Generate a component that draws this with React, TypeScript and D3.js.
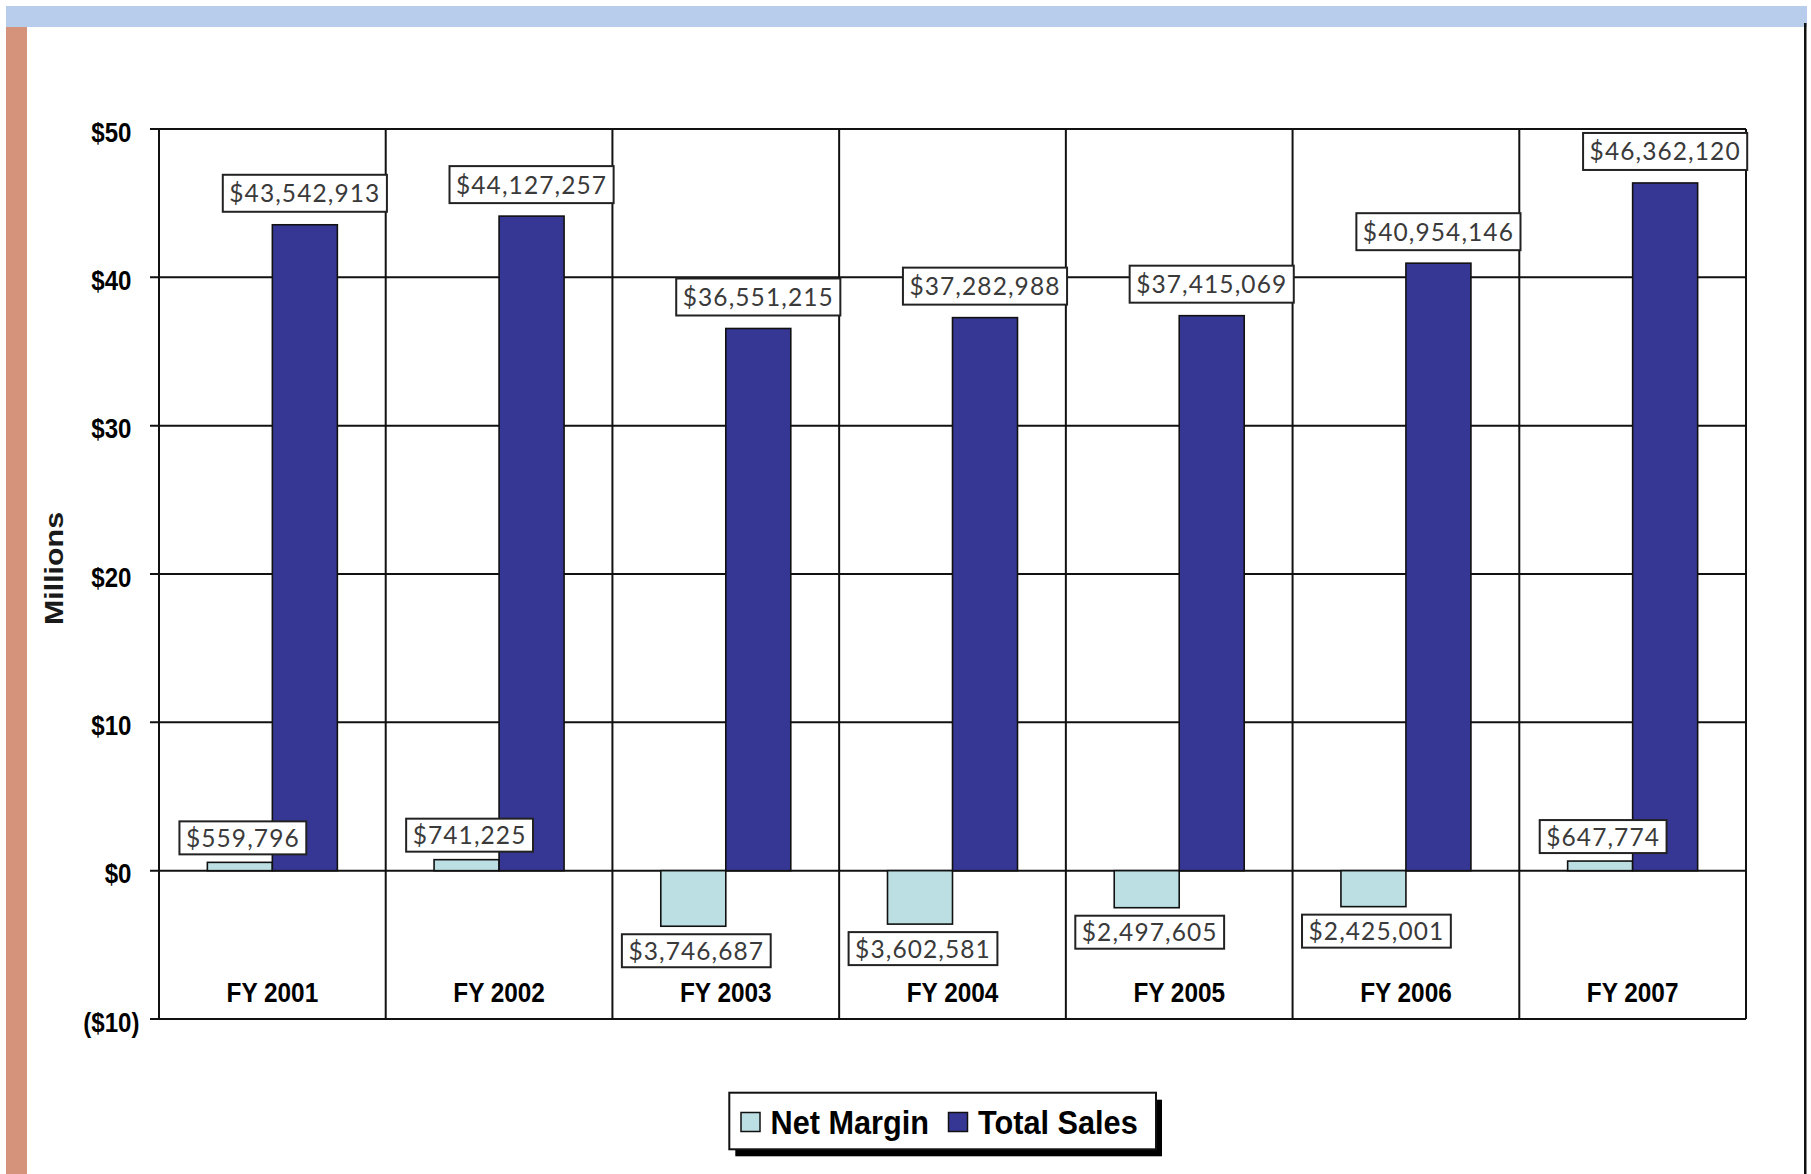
import React, { useEffect, useRef } from "react";
import * as d3 from "d3";

const categories = ["FY 2001", "FY 2002", "FY 2003", "FY 2004", "FY 2005", "FY 2006", "FY 2007"];
const netMargin = [559796, 741225, -3746687, -3602581, -2497605, -2425001, 647774];
const totalSales = [43542913, 44127257, 36551215, 37282988, 37415069, 40954146, 46362120];
const yTicks = [-10, 0, 10, 20, 30, 40, 50];
const seriesNames = ["Net Margin", "Total Sales"];
const seriesColors = ["#BBDFE2", "#363794"];
const yAxisTitle = "Millions";

const W = 1811;
const H = 1174;
const BOLD = "'Liberation Sans', Arial, Helvetica, sans-serif";
const LABEL_FONT = "Lato, 'Open Sans', 'Liberation Sans', sans-serif";

export default function App() {
  const ref = useRef<SVGSVGElement>(null);

  useEffect(() => {
    if (!ref.current) return;
    const svg = d3.select(ref.current);
    svg.selectAll("*").remove();

    svg.append("rect").attr("x", 0).attr("y", 0).attr("width", W).attr("height", H).attr("fill", "#ffffff");
    // decorative frame
    svg.append("rect").attr("x", 6).attr("y", 6).attr("width", 1801).attr("height", 21).attr("fill", "#B7CDEB");
    svg.append("rect").attr("x", 6).attr("y", 27).attr("width", 21).attr("height", H - 27).attr("fill", "#D4937A");
    svg.append("rect").attr("x", 1804).attr("y", 23).attr("width", 2.5).attr("height", H - 23).attr("fill", "#111");

    const x = d3.scaleBand<string>().domain(categories).range([159, 1746]).paddingInner(0).paddingOuter(0);
    const xs = d3.scaleBand<string>().domain(seriesNames).range([0, x.bandwidth()]).paddingInner(0).paddingOuter(0.744);
    const y = d3.scaleLinear().domain([-10, 50]).range([1019, 129]);
    const color = d3.scaleOrdinal<string, string>().domain(seriesNames).range(seriesColors);

    const g = svg.append("g");

    // horizontal gridlines with ticks
    g.selectAll("line.h")
      .data(yTicks)
      .join("line")
      .attr("class", "h")
      .attr("x1", 150)
      .attr("x2", x.range()[1])
      .attr("y1", (d) => y(d))
      .attr("y2", (d) => y(d))
      .attr("stroke", "#111")
      .attr("stroke-width", 2);

    // vertical category gridlines
    const bounds = categories.map((c) => x(c) as number).concat([x.range()[1]]);
    g.selectAll("line.v")
      .data(bounds)
      .join("line")
      .attr("class", "v")
      .attr("x1", (d) => d)
      .attr("x2", (d) => d)
      .attr("y1", y(50))
      .attr("y2", y(-10))
      .attr("stroke", "#111")
      .attr("stroke-width", 2);

    // y tick labels
    g.selectAll("text.yt")
      .data(yTicks)
      .join("text")
      .attr("class", "yt")
      .attr("transform", (d) => `translate(${d < 0 ? 139.5 : 131.5},${y(d) + 12.5}) scale(0.86,1)`)
      .attr("text-anchor", "end")
      .attr("font-family", BOLD)
      .attr("font-weight", "bold")
      .attr("font-size", 28)
      .attr("fill", "#000")
      .text((d) => (d < 0 ? `($${-d})` : `$${d}`));

    // y axis title
    g.append("text")
      .attr("transform", `translate(63,568.5) rotate(-90)`)
      .attr("text-anchor", "middle")
      .attr("font-family", BOLD)
      .attr("font-weight", "bold")
      .attr("font-size", 25)
      .attr("fill", "#1a1a1a")
      .attr("textLength", 113)
      .attr("lengthAdjust", "spacingAndGlyphs")
      .text(yAxisTitle);

    // category labels
    g.selectAll("text.xt")
      .data(categories)
      .join("text")
      .attr("class", "xt")
      .attr("transform", (d) => `translate(${(x(d) as number) + x.bandwidth() / 2},1002) scale(0.87,1)`)
      .attr("text-anchor", "middle")
      .attr("font-family", BOLD)
      .attr("font-weight", "bold")
      .attr("font-size", 28)
      .attr("fill", "#000")
      .text((d) => d);

    // bars
    const rows = categories.map((c, i) => ({ c, net: netMargin[i], total: totalSales[i] }));
    const barData = rows.flatMap((r) => [
      { c: r.c, s: seriesNames[0], v: r.net },
      { c: r.c, s: seriesNames[1], v: r.total },
    ]);
    g.selectAll("rect.bar")
      .data(barData)
      .join("rect")
      .attr("class", "bar")
      .attr("x", (d) => (x(d.c) as number) + (xs(d.s) as number))
      .attr("y", (d) => y(Math.max(0, d.v / 1e6)))
      .attr("width", xs.bandwidth())
      .attr("height", (d) => Math.abs(y(d.v / 1e6) - y(0)))
      .attr("fill", (d) => color(d.s))
      .attr("stroke", "#111")
      .attr("stroke-width", 1.6);

    // data labels
    const fmt = d3.format(",");
    const addLabel = (cx: number, edgeY: number, above: boolean, h: number, gap: number, str: string) => {
      const lg = g.append("g");
      const rect = lg.append("rect");
      const t = lg
        .append("text")
        .attr("x", cx)
        .attr("text-anchor", "middle")
        .attr("font-family", LABEL_FONT)
        .attr("font-size", 24.5)
        .attr("font-weight", 400)
        .attr("letter-spacing", 1.1)
        .attr("fill", "#3a3a3a")
        .text(str);
      const bb = (t.node() as SVGTextElement).getBBox();
      const w = bb.width + 13;
      const top = above ? edgeY - gap - h : edgeY + gap;
      t.attr("y", top + h / 2 + 9);
      rect
        .attr("x", cx - w / 2)
        .attr("y", top)
        .attr("width", w)
        .attr("height", h)
        .attr("fill", "#fff")
        .attr("stroke", "#222")
        .attr("stroke-width", 2);
    };
    barData.forEach((d) => {
      const bx = (x(d.c) as number) + (xs(d.s) as number) + xs.bandwidth() / 2;
      const vy = y(d.v / 1e6);
      const str = "$" + fmt(Math.abs(d.v));
      if (d.s === seriesNames[1]) {
        addLabel(bx, vy, true, 37, 13, str);
      } else {
        addLabel(bx + 3, vy, d.v >= 0, 33, 8, str);
      }
    });

    // legend
    const lx = 729.3;
    const ly = 1092.7;
    const lw = 426.7;
    const lh = 56.6;
    const leg = svg.append("g");
    leg.append("rect").attr("x", lx + 6).attr("y", ly + 7).attr("width", lw).attr("height", lh).attr("fill", "#000");
    leg.append("rect").attr("x", lx).attr("y", ly).attr("width", lw).attr("height", lh).attr("fill", "#fff").attr("stroke", "#111").attr("stroke-width", 2);
    const entryX = [741, 948.5];
    seriesNames.forEach((s, i) => {
      leg.append("rect").attr("x", entryX[i]).attr("y", 1112.5).attr("width", 19).attr("height", 19).attr("fill", color(s)).attr("stroke", "#111").attr("stroke-width", 1.5);
      leg.append("text")
        .attr("transform", `translate(${entryX[i] + 29.5},1134) scale(0.93,1)`)
        .attr("font-family", BOLD)
        .attr("font-weight", "bold")
        .attr("font-size", 33)
        .attr("fill", "#000")
        .text(s);
    });
  }, []);

  return (
    <svg
      ref={ref}
      width={W}
      height={H}
      viewBox={`0 0 ${W} ${H}`}
      style={{ position: "absolute", left: 0, top: 0, display: "block" }}
    />
  );
}
